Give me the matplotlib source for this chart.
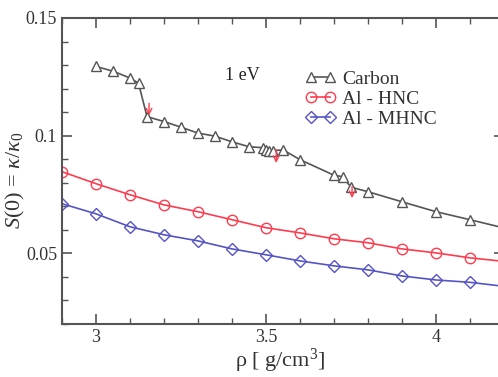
import matplotlib
matplotlib.use("Agg")
import matplotlib.pyplot as plt
import numpy as np

# -------- DATA --------
rho_al = [2.9, 3.0, 3.1, 3.2, 3.3, 3.4, 3.5, 3.6, 3.7, 3.8, 3.9, 4.0, 4.1, 4.2]
s_hnc = [0.0847, 0.0796, 0.0749, 0.0706, 0.0677, 0.0643, 0.0609,
         0.0587, 0.0562, 0.0545, 0.0519, 0.0502, 0.0481, 0.0466]
s_mhnc = [0.0711, 0.0668, 0.0613, 0.0579, 0.0553, 0.0519, 0.0494,
          0.0468, 0.0447, 0.0430, 0.0404, 0.0387, 0.0377, 0.0360]

rho_c = [3.0, 3.05, 3.1, 3.125, 3.15, 3.2, 3.25, 3.3, 3.35, 3.4, 3.45,
         3.49, 3.5, 3.51, 3.52, 3.55, 3.6, 3.7, 3.725, 3.75, 3.8, 3.9,
         4.0, 4.1, 4.2]
s_c = [0.1294, 0.1274, 0.1245, 0.1223, 0.1081, 0.1060, 0.1036, 0.1011,
       0.0998, 0.0974, 0.0953, 0.0949, 0.0940, 0.0936, 0.0936, 0.0940,
       0.0898, 0.0832, 0.0826, 0.0781, 0.0762, 0.0719, 0.0677, 0.0643,
       0.0608]

# red arrows marking transitions: (x, y_start, y_end)
arrows = [(3.156, 0.1149, 0.1074), (3.53, 0.0953, 0.0872), (3.753, 0.0796, 0.0723)]

# -------- FIGURE --------
plt.rcParams['font.family'] = ['Liberation Serif', 'DejaVu Serif']
plt.rcParams['mathtext.fontset'] = 'custom'
plt.rcParams['mathtext.rm'] = 'Liberation Serif'
plt.rcParams['mathtext.it'] = 'Liberation Serif:italic'

fig = plt.figure(figsize=(4.98, 3.77), dpi=100)
ax = fig.add_axes([0.1245, 0.1406, 0.8876, 0.8117])

gray = '#555555'
red = '#ff3b4e'
blue = '#5454c4'

ax.plot(rho_c, s_c, '-^', color=gray, mfc='white', mec=gray, ms=7, lw=1.2,
        mew=1.0, label='Carbon', zorder=3)
ax.plot(rho_al, s_hnc, '-o', color=red, mfc='none', mec=red, ms=7.5, lw=1.2,
        mew=1.0, label='Al - HNC')
ax.plot(rho_al, s_mhnc, '-D', color=blue, mfc='none', mec=blue, ms=6.5, lw=1.2,
        mew=1.0, label='Al - MHNC')

for x, y0, y1 in arrows:
    ax.annotate('', xy=(x, y1), xytext=(x, y0),
                arrowprops=dict(arrowstyle='->', color=red, lw=1.0), zorder=4)

ax.text(3.43, 0.1255, '1 eV', fontsize=13, ha='center', va='center', color='#222222')

leg = ax.legend(loc='upper left', bbox_to_anchor=(0.51, 0.885), frameon=False,
                numpoints=2, handlelength=1.6, handletextpad=0.3,
                labelspacing=0.12, fontsize=14)
for t in leg.get_texts():
    t.set_color('#333333')

ax.set_xlim(2.9, 4.2)
ax.set_ylim(0.02, 0.15)
ax.set_xticks([3, 3.5, 4])
ax.set_xticklabels(['3', '3.5', '4'])
ax.set_xticks(np.arange(2.9, 4.21, 0.1), minor=True)
ax.set_yticks([0.05, 0.1, 0.15])
ax.set_yticklabels(['0.05', '0.1', '0.15'])
ax.set_yticks(np.arange(0.02, 0.151, 0.01), minor=True)

ax.tick_params(which='both', direction='in', top=True, right=True,
               colors=gray, labelcolor='#333333', labelsize=13)
ax.tick_params(which='major', length=7, width=1.2)
ax.tick_params(which='minor', length=4, width=1.0)
for s in ax.spines.values():
    s.set_color(gray)
    s.set_linewidth(1.5)

ax.set_xlabel('ρ [ g/cm$^3$]', fontsize=16, color='#333333')
ax.set_ylabel(r'$S(0)$ = $\kappa/\kappa_0$', fontsize=16, color='#333333')
ax.xaxis.set_label_coords(0.493, -0.075)
ax.yaxis.set_label_coords(-0.08, 0.47)

fig.savefig('out.png', dpi=100)
